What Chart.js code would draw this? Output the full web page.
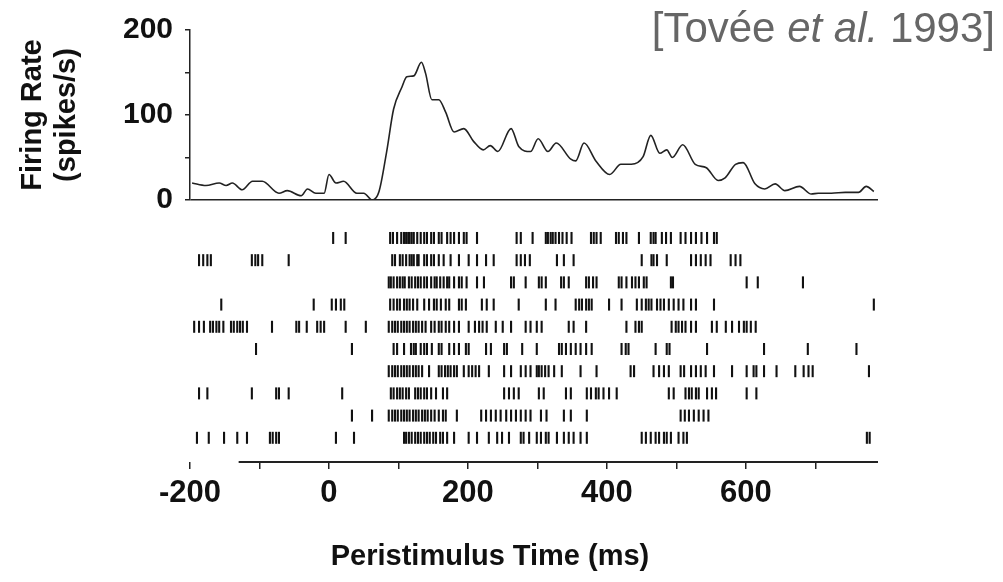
<!DOCTYPE html>
<html>
<head>
<meta charset="utf-8">
<script src="https://cdn.jsdelivr.net/npm/chart.js@4"></script>
<style>
  html, body { margin: 0; padding: 0; background: #fff; }
  #wrap { position: relative; width: 1003px; height: 582px; overflow: hidden; }
  canvas { position: absolute; left: 0; top: 0; }
  .cite { position: absolute; right: 8px; top: 7px; font: 42px "Liberation Sans", Arial, sans-serif; line-height: 42px; color: #666; }
  .xtitle { position: absolute; left: 0; width: 980px; top: 538px; text-align: center; font: bold 29px "Liberation Sans", Arial, sans-serif; line-height: 34px; color: #111; }
</style>
</head>
<body>
<div id="wrap">
  <canvas id="psth" width="1003" height="582"></canvas>
  <canvas id="raster" width="1003" height="582"></canvas>
  <div class="cite">[Tovée <i>et al.</i> 1993]</div>
  <div class="xtitle">Peristimulus Time (ms)</div>
</div>
<script>
// peristimulus time histogram (ms, spikes/s)
const psthTime = [-197, -177, -158, -148, -139, -125, -110, -96, -72, -60, -40, -31, -19, -7, 0, 10, 21, 40, 50, 62, 72, 83, 93, 105, 112, 122, 133, 139, 148, 158, 168, 180, 194, 208, 222, 232, 243, 262, 273, 290, 301, 315, 327, 348, 355, 367, 384, 404, 420, 435, 452, 463, 476, 486, 494, 509, 527, 543, 560, 570, 585, 596, 613, 627, 642, 656, 677, 694, 704, 723, 743, 762, 773, 784];
const psthRate = [20, 17, 20, 17, 20, 12, 22, 22, 8, 11, 5, 13, 8, 8, 30, 20, 22, 8, 8, 0, 10, 57, 107, 133, 145, 146, 162, 149, 118, 118, 103, 80, 84, 69, 59, 64, 57, 84, 63, 57, 72, 57, 67, 48, 46, 67, 46, 30, 42, 42, 51, 76, 55, 59, 50, 65, 42, 38, 23, 26, 42, 44, 19, 13, 19, 11, 16, 7, 8, 8, 9, 9, 16, 10];

// spike times (ms) for each trial, top row first
const trial1 = [6, 24, 88, 92, 98, 104, 108, 111, 114, 116, 119, 122, 127, 132, 137, 141, 147, 151, 158, 162, 170, 175, 180, 187, 194, 198, 213, 270, 276, 293, 312, 315, 319, 322, 326, 331, 336, 342, 349, 377, 381, 385, 391, 413, 417, 423, 428, 446, 463, 467, 470, 479, 485, 492, 506, 513, 521, 528, 536, 544, 554, 558];
const trial2 = [-187, -181, -175, -170, -111, -106, -102, -96, -58, 91, 95, 102, 106, 111, 116, 119, 122, 127, 129, 137, 141, 147, 151, 158, 165, 175, 187, 201, 213, 226, 237, 270, 276, 282, 289, 328, 338, 352, 450, 464, 467, 472, 486, 521, 528, 535, 542, 549, 578, 585, 592];
const trial3 = [86, 89, 93, 98, 102, 106, 109, 115, 119, 124, 128, 132, 137, 141, 147, 152, 155, 160, 165, 170, 173, 180, 187, 191, 198, 213, 223, 262, 266, 283, 302, 306, 312, 334, 338, 345, 370, 374, 380, 385, 417, 421, 428, 436, 441, 446, 453, 457, 492, 495, 601, 617, 682];
const trial4 = [-155, -22, 4, 10, 17, 22, 88, 93, 98, 102, 108, 112, 116, 121, 127, 137, 144, 151, 155, 161, 168, 173, 187, 191, 197, 220, 227, 237, 273, 312, 326, 355, 360, 364, 370, 374, 378, 403, 421, 443, 450, 456, 460, 464, 472, 477, 482, 489, 496, 503, 510, 521, 528, 554, 784];
const trial5 = [-194, -187, -180, -171, -167, -162, -158, -152, -141, -137, -132, -128, -124, -118, -82, -47, -43, -32, -17, -12, -7, 24, 53, 86, 91, 95, 99, 104, 108, 112, 116, 121, 125, 129, 134, 139, 147, 152, 158, 162, 168, 173, 180, 187, 201, 210, 216, 221, 227, 240, 250, 262, 283, 290, 299, 306, 345, 352, 370, 428, 441, 446, 450, 493, 499, 503, 508, 513, 521, 528, 551, 558, 571, 580, 590, 597, 601, 607, 614];
const trial6 = [-105, 33, 93, 98, 108, 118, 122, 125, 132, 137, 141, 148, 158, 162, 173, 180, 187, 197, 201, 226, 233, 252, 256, 278, 299, 331, 335, 341, 348, 355, 362, 370, 378, 421, 427, 431, 470, 486, 490, 544, 626, 689, 759];
const trial7 = [86, 91, 95, 99, 104, 108, 112, 116, 121, 125, 129, 134, 144, 158, 162, 167, 171, 175, 180, 184, 194, 201, 206, 211, 216, 230, 252, 262, 276, 283, 290, 299, 302, 306, 311, 316, 324, 335, 362, 385, 434, 439, 467, 475, 482, 489, 506, 511, 521, 528, 535, 542, 554, 580, 601, 611, 615, 626, 644, 671, 683, 690, 696, 777];
const trial8 = [-187, -175, -111, -76, -72, -58, 19, 89, 93, 98, 102, 106, 111, 115, 124, 128, 132, 137, 141, 147, 154, 164, 170, 252, 259, 266, 273, 302, 309, 341, 348, 371, 377, 384, 388, 395, 403, 414, 489, 496, 513, 518, 522, 528, 532, 544, 551, 557, 601, 615];
const trial9 = [33, 62, 86, 91, 95, 99, 104, 108, 112, 116, 121, 125, 129, 134, 138, 142, 147, 152, 158, 164, 168, 184, 219, 226, 233, 240, 247, 255, 262, 269, 276, 283, 290, 305, 313, 338, 348, 371, 506, 512, 518, 525, 532, 539, 546];
const trial10 = [-190, -173, -151, -132, -118, -85, -81, -76, -72, 10, 36, 108, 111, 115, 119, 124, 128, 132, 137, 141, 145, 150, 154, 160, 164, 170, 180, 201, 213, 230, 242, 249, 259, 276, 280, 288, 299, 305, 312, 316, 328, 338, 345, 352, 362, 371, 450, 456, 463, 470, 475, 482, 486, 492, 503, 510, 515, 774, 778];
const trials = [trial1, trial2, trial3, trial4, trial5, trial6, trial7, trial8, trial9, trial10];

const xTickValues = [-200, -100, 0, 100, 200, 300, 400, 500, 600, 700];
const xTickLabels = [-200, 0, 200, 400, 600];
const axisLineStart = -130; // bottom axis line starts a bit right of -200 in the original

Chart.defaults.font.family = '"Liberation Sans", Arial, Helvetica, sans-serif';
Chart.defaults.color = '#111';

// PSTH on top
new Chart(document.getElementById('psth'), {
  type: 'line',
  data: {
    datasets: [{
      data: psthTime.map((t, i) => ({ x: t, y: psthRate[i] })),
      borderColor: '#222',
      borderWidth: 1.6,
      pointRadius: 0,
      cubicInterpolationMode: 'monotone',
      fill: false
    }]
  },
  options: {
    responsive: false,
    animation: false,
    layout: { padding: { left: 0, right: 125, top: 25, bottom: 382 } },
    plugins: { legend: { display: false }, tooltip: { enabled: false } },
    scales: {
      x: { type: 'linear', min: -200, max: 790, display: false },
      y: {
        min: 0,
        max: 200,
        afterFit: s => { s.width = 190; },
        border: { display: true, color: '#222', width: 1.5 },
        grid: {
          drawOnChartArea: true,
          color: c => (c.tick && c.tick.value === 0) ? '#222' : 'rgba(0,0,0,0)',
          lineWidth: 1.5,
          tickColor: '#222',
          tickLength: 5
        },
        ticks: {
          stepSize: 50,
          padding: 12,
          font: { size: 30, weight: 'bold' },
          callback: v => (v % 100 === 0 ? v : '')
        },
        title: {
          display: true,
          text: ['Firing Rate', '(spikes/s)'],
          font: { size: 29, weight: 'bold', lineHeight: 1.17 },
          padding: { top: 16, bottom: 0 }
        }
      }
    }
  }
});

// axis line that does not run all the way to the left edge
const partialAxis = {
  id: 'partialAxis',
  afterDraw(chart) {
    const { ctx, chartArea, scales: { x } } = chart;
    ctx.save();
    ctx.strokeStyle = '#222';
    ctx.lineWidth = 1.8;
    ctx.beginPath();
    ctx.moveTo(x.getPixelForValue(axisLineStart), chartArea.bottom);
    ctx.lineTo(chartArea.right, chartArea.bottom);
    ctx.stroke();
    ctx.restore();
  }
};

// spike raster below
new Chart(document.getElementById('raster'), {
  type: 'scatter',
  data: {
    datasets: trials.map((spikes, i) => ({
      data: spikes.map(t => ({ x: t, y: i + 1 })),
      pointStyle: 'line',
      pointRotation: 90,
      pointRadius: 6,
      pointBorderColor: '#111',
      pointBorderWidth: 2.1,
      pointBackgroundColor: '#111'
    }))
  },
  options: {
    responsive: false,
    animation: false,
    layout: { padding: { left: 190, right: 125, top: 200, bottom: 0 } },
    plugins: { legend: { display: false }, tooltip: { enabled: false } },
    scales: {
      y: { display: false, reverse: true, min: -0.71, max: 11.09 },
      x: {
        type: 'linear',
        min: -200,
        max: 790,
        afterFit: s => { s.height = 120; },
        afterBuildTicks: s => { s.ticks = xTickValues.map(v => ({ value: v })); },
        border: { display: false },
        grid: { drawOnChartArea: false, color: '#222', tickLength: 7, lineWidth: 1.5 },
        ticks: {
          autoSkip: false,
          maxRotation: 0,
          padding: 6,
          font: { size: 31, weight: 'bold' },
          callback: v => (xTickLabels.includes(v) ? v : '')
        }
      }
    }
  },
  plugins: [partialAxis]
});
</script>
</body>
</html>
